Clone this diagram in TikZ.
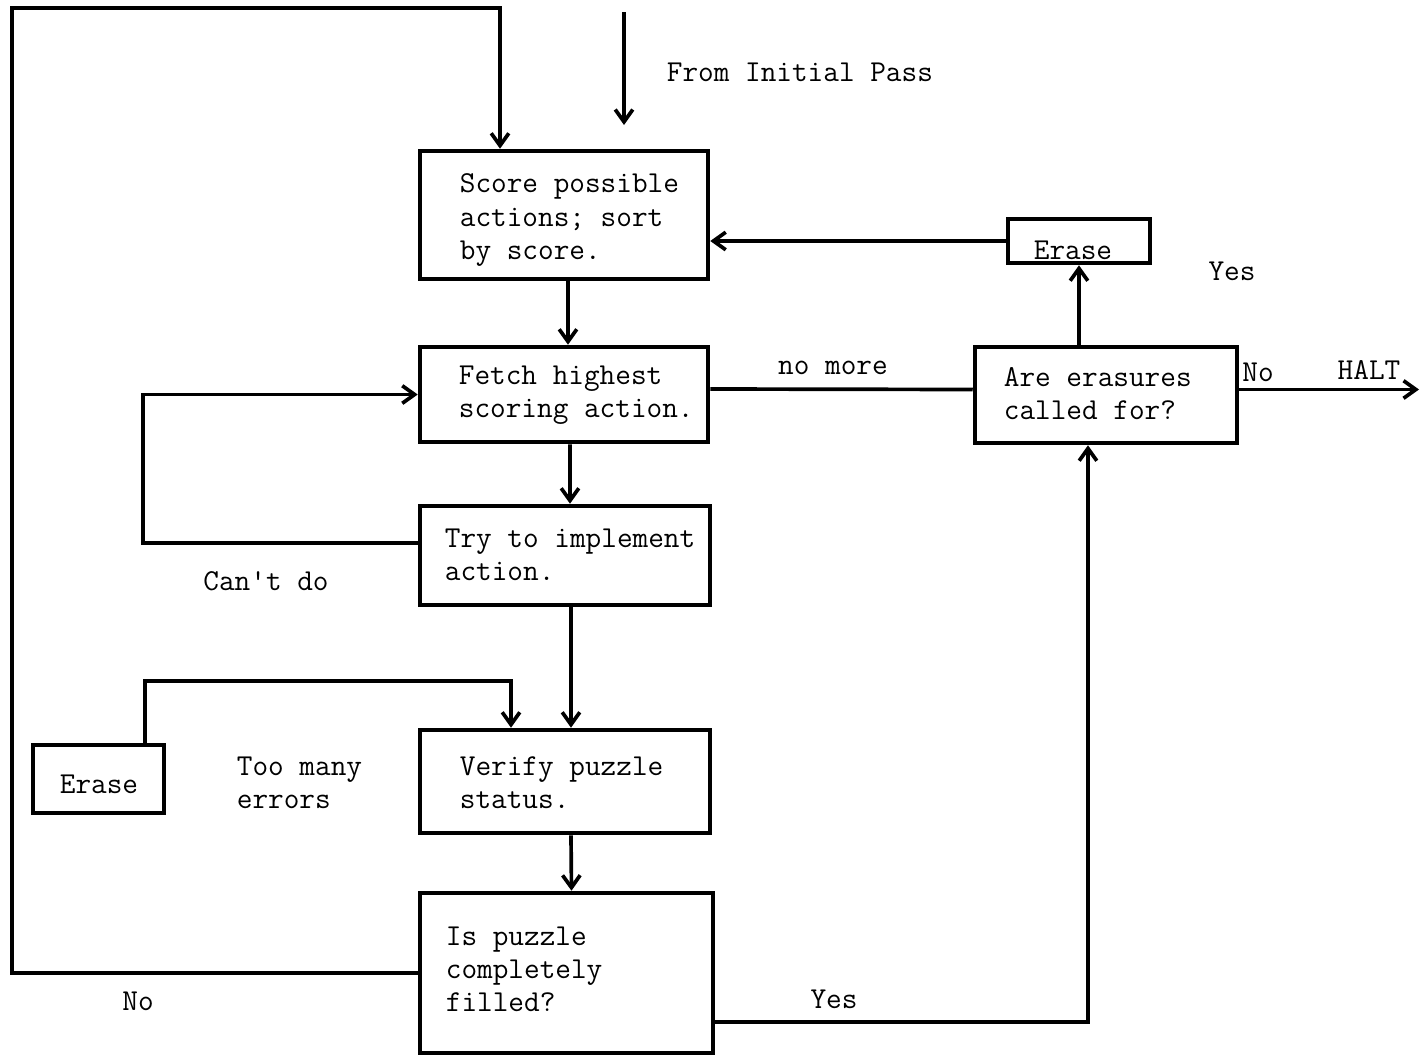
\documentclass[tikz,border=0pt]{standalone}
\usetikzlibrary{arrows.meta}
\tikzset{%
    every node/.style={font=\ttfamily\fontsize{17.3}{18.8}\selectfont},
    box/.style={draw, rectangle, line width=2.6pt, inner sep=0pt},
    txt/.style={align=left, inner sep=0pt, anchor=west},
    arr/.style={-{Straight Barb[length=7pt, width=10pt]}},
    lin/.style={line width=2.1pt}
}
\begin{document}
\begin{tikzpicture}[x=0.02cm, y=-0.02cm, lin]
	\useasboundingbox (0,0) rectangle (1421,1055);
	% boxes
	\node [box, minimum width=5.76cm, minimum height=2.56cm] (score) at (564,215) {};
	\node [box, minimum width=5.76cm, minimum height=1.9cm] (fetch) at (564,394.5) {};
	\node [box, minimum width=5.8cm, minimum height=1.98cm] (try) at (565,555.5) {};
	\node [box, minimum width=5.8cm, minimum height=2.06cm] (verify) at (565,781.5) {};
	\node [box, minimum width=5.86cm, minimum height=3.2cm] (filled) at (566.5,973) {};
	\node [box, minimum width=5.24cm, minimum height=1.92cm] (erasures) at (1106,395) {};
	\node [box, minimum width=2.84cm, minimum height=0.88cm] (erasetop) at (1079,241) {};
	\node [box, minimum width=2.62cm, minimum height=1.36cm] (eraseleft) at (98.5,779) {};
	% box texts
	\node [txt] (scoretxt) at (458,220) {Score possible\\actions; sort\\by score.};
	\node [txt] (fetchtxt) at (457,395) {Fetch highest\\scoring action.};
	\node [txt] (trytxt) at (443,555) {Try to implement\\action.};
	\node [txt] (verifytxt) at (458,783) {Verify puzzle\\status.};
	\node [txt] (filledtxt) at (444,969) {Is puzzle\\completely\\filled?};
	\node [txt] (erasurestxt) at (1002,394) {Are erasures\\called for?};
	\node (erasetoptxt) at (1073,250) {Erase};
	\node (eraselefttxt) at (99,784) {Erase};
	% labels
	\node [txt] (initial) at (665,72) {From Initial Pass};
	\node (nomore) at (833,368) {no more};
	\node (yestop) at (1232,271) {Yes};
	\node (notop) at (1258,372) {No};
	\node (halt) at (1369,370) {HALT};
	\node (cantdo) at (266,581) {Can't do};
	\node [txt] (toomany) at (235,783) {Too many\\errors};
	\node (nobottom) at (138,1001) {No};
	\node (yesbottom) at (834,999) {Yes};
	% connectors
	\coordinate (initstart) at (624,12);
	\coordinate (initend) at (624,125);
	\coordinate (loop) at (12,8);
	\coordinate (haltend) at (1419,389);
	\draw [arr] (initstart) -- (initend);
	\draw [arr] (filled.west) -| (loop) -| ([xshift=-1.28cm]score.north);
	\draw [arr] ([xshift=0.08cm]score.south) -- ([xshift=0.08cm]fetch.north);
	\draw [arr] ([xshift=0.12cm]fetch.south) -- ([xshift=0.1cm]try.north);
	\draw [arr] ([xshift=0.12cm]try.south) -- ([xshift=0.12cm]verify.north);
	\draw [arr] ([xshift=0.12cm]verify.south) -- ([xshift=0.1cm]filled.north);
	\draw [arr] ([yshift=0.25cm]try.west) -- ++(-275,0) |- (fetch.west);
	\draw [arr] ([xshift=0.93cm]eraseleft.north) -- ++(0,-62) -| ([xshift=-1.08cm]verify.north);
	\draw [arr] ([yshift=-0.98cm]filled.east) -| ([xshift=-0.36cm]erasures.south);
	\draw ([yshift=0.11cm]fetch.east) -- ([yshift=0.11cm]erasures.west);
	\draw [arr] (erasetop.south |- erasures.north) -- (erasetop.south);
	\draw [arr] (erasetop.west) -- (erasetop.west -| score.east);
	\draw [arr] ([yshift=0.11cm]erasures.east) -- ([yshift=0.11cm]erasures.east -| haltend);
\end{tikzpicture}
\end{document}
